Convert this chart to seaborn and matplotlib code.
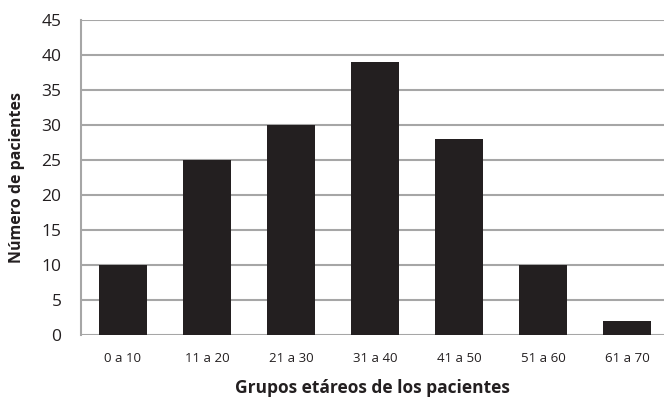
import matplotlib
matplotlib.use("Agg")
import matplotlib.pyplot as plt
import seaborn as sns
import pandas as pd

# ---------------------------------------------------------
# Data
# ---------------------------------------------------------

groups = ["0 a 10", "11 a 20", "21 a 30", "31 a 40", "41 a 50", "51 a 60", "61 a 70"]
patients = [10, 25, 30, 39, 28, 10, 2]
y_ticks = [0, 5, 10, 15, 20, 25, 30, 35, 40, 45]

df = pd.DataFrame({"grupo": groups, "pacientes": patients})

# ---------------------------------------------------------
# Plot
# ---------------------------------------------------------

sns.set_style("white")
plt.rcParams["font.family"] = ["Open Sans", "DejaVu Sans"]

fig = plt.figure(figsize=(6.64, 4.01), dpi=100)
ax = fig.add_axes([81 / 664, 66 / 401, 583 / 664, 315 / 401])

sns.barplot(data=df, x="grupo", y="pacientes", color="#231f20",
            saturation=1, width=0.57, linewidth=0, ax=ax, zorder=3)

grid_col = "#a6a6a6"
ax.set_ylim(0, 45)
ax.set_yticks(y_ticks)
ax.set_xlim(-0.5, 583 / 84 - 0.5)
ax.yaxis.grid(True, color=grid_col, linewidth=1.5, zorder=0)
ax.set_axisbelow(True)

for side in ["top", "right", "bottom"]:
    ax.spines[side].set_visible(False)
ax.spines["left"].set_color(grid_col)
ax.spines["left"].set_linewidth(1.5)

ax.tick_params(axis="y", length=0, labelsize=12.5, pad=14, labelcolor="#231f20")
ax.tick_params(axis="x", length=0, labelsize=9.5, pad=12, labelcolor="#231f20")

ax.set_xlabel("Grupos etáreos de los pacientes", fontsize=12.5, fontweight="bold",
              color="#231f20", labelpad=10)
ax.set_ylabel("Número de pacientes", fontsize=11.5, fontweight="bold",
              color="#231f20", labelpad=12)

fig.savefig("out.png", dpi=100)
